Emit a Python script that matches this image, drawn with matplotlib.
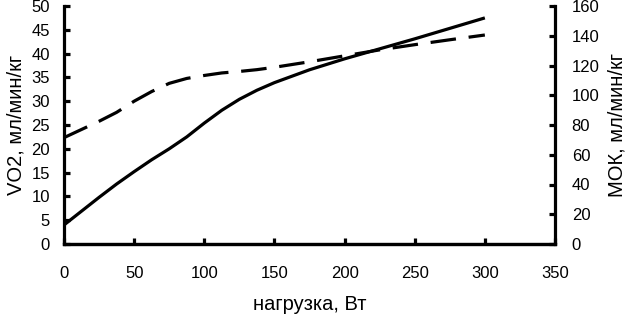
import matplotlib
matplotlib.use("Agg")
import matplotlib.pyplot as plt

plt.rcParams['font.family'] = ['Liberation Sans', 'DejaVu Sans']

load = [0, 12.5, 25, 37.5, 50, 62.5, 75, 87.5, 100, 112.5, 125, 137.5, 150,
        175, 200, 225, 250, 275, 300]
vo2 = [4.0, 6.9, 9.8, 12.6, 15.2, 17.7, 20.0, 22.5, 25.4, 28.1, 30.4, 32.3, 33.9,
       36.6, 38.9, 41.0, 43.1, 45.3, 47.5]
mok = [71.5, 77.0, 82.5, 88.5, 96.0, 102.5, 108.0, 111.3, 113.3, 115.0, 116.0, 117.2, 118.8,
       122.5, 126.5, 130.5, 134.0, 137.3, 140.5]

xticks = [0, 50, 100, 150, 200, 250, 300, 350]
yticks_left = [0, 5, 10, 15, 20, 25, 30, 35, 40, 45, 50]
yticks_right = [0, 20, 40, 60, 80, 100, 120, 140, 160]

fig = plt.figure(figsize=(6.3, 3.2), dpi=100)
ax = fig.add_axes([64/630, 76/320, (555-64)/630, (244-6)/320])
ax2 = ax.twinx()

ax.plot(load, vo2, color='black', lw=2.3, solid_capstyle='butt', solid_joinstyle='round')
ax2.plot(load, mok, color='black', lw=2.3, dashes=(8, 4), dash_capstyle='butt',
         dash_joinstyle='round')

ax.set_xlim(0, 350)
ax.set_ylim(0, 50)
ax2.set_ylim(0, 160)
ax.set_xticks(xticks)
ax.set_yticks(yticks_left)
ax2.set_yticks(yticks_right)

for a in (ax, ax2):
    a.spines['top'].set_visible(False)
    for s in a.spines.values():
        s.set_linewidth(2.3)
    a.tick_params(direction='in', length=4, width=2.3, labelsize=12)

ax.spines['right'].set_visible(False)
ax2.spines['left'].set_visible(False)
ax.tick_params(axis='x', pad=16)
ax.tick_params(axis='y', pad=10)
ax2.tick_params(axis='y', pad=12)

ax.set_xlabel('нагрузка, Вт', fontsize=14.5, labelpad=10)
ax.set_ylabel('VO2, мл/мин/кг', fontsize=14.5, labelpad=4)
ax2.set_ylabel('МОК, мл/мин/кг', fontsize=14.5, labelpad=6)

fig.savefig('out.png', dpi=100)
